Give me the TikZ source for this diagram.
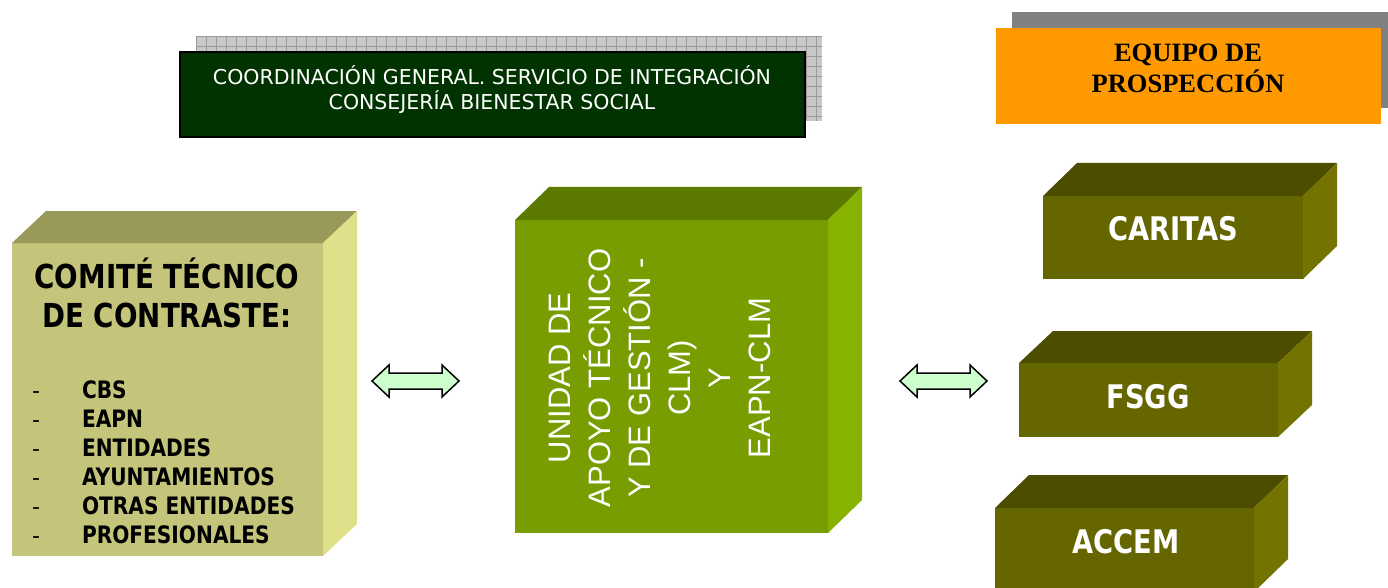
\documentclass[tikz,border=0pt]{standalone}
\usepackage{fontspec}
\setmainfont{Liberation Sans}
\newfontfamily\tahfont{DejaVu Sans}
\newfontfamily\tahbold[FakeStretch=0.84]{DejaVu Sans Bold}
\newfontfamily\timesfont{Liberation Serif}
\definecolor{gridfill}{HTML}{C8C8C8}
\definecolor{gridline}{HTML}{9A9A9A}
\definecolor{coordgreen}{HTML}{003300}
\definecolor{equipoorange}{HTML}{FF9900}
\definecolor{equiposhadow}{HTML}{808080}
\definecolor{comfront}{HTML}{C4C47A}
\definecolor{comtop}{HTML}{99995A}
\definecolor{comright}{HTML}{E0E08A}
\definecolor{unifront}{HTML}{779D00}
\definecolor{unitop}{HTML}{5C7A00}
\definecolor{uniright}{HTML}{86B300}
\definecolor{boxfront}{HTML}{666600}
\definecolor{boxtop}{HTML}{4D4D00}
\definecolor{boxright}{HTML}{737300}
\definecolor{arrowfill}{HTML}{CCFFCC}
\newcommand\cubesides[5]{%
  \fill[#4] (#1.north west) -- ++(#2,-#3) -- ([shift={(#2,-#3)}]#1.north east) -- (#1.north east) -- cycle;
  \fill[#5] (#1.north east) -- ++(#2,-#3) -- ([shift={(#2,-#3)}]#1.south east) -- (#1.south east) -- cycle;}
\begin{document}
\begin{tikzpicture}[x=1pt,y=-1pt,
  txt/.style={inner sep=0pt, outer sep=0pt, anchor=base},
  front/.style={inner sep=0pt, outer sep=0pt, anchor=north west, draw=none},
  barrow/.style={draw=black, line width=1.5pt, fill=arrowfill, line join=miter},
  comtxt/.style={txt, text=black, font=\tahbold\fontsize{24}{28}\selectfont},
  dashtxt/.style={txt, text=black, font=\tahfont\fontsize{22}{28}\selectfont},
  boxtxt/.style={txt, text=white, font=\tahbold\fontsize{32.5}{36}\selectfont},
  unitxt/.style={txt, text=white, rotate=90, font=\fontsize{31}{36}\selectfont}]
\clip (0,0) rectangle (1388,588);
\fill[white] (0,0) rectangle (1388,588);

% ---- coordination box with grid shadow
\fill[gridfill] (196,36) rectangle (822,121);
\foreach \gx in {196,206,...,822} \draw[gridline, line width=0.8pt] (\gx,36) -- (\gx,121);
\foreach \gy in {36,46,...,121} \draw[gridline, line width=0.8pt] (196,\gy) -- (822,\gy);
\node[front, draw=black, line width=2pt, fill=coordgreen, minimum width=625, minimum height=85] (coord) at (180,52) {};
\node[txt, text=white, font=\tahfont\fontsize{20.5}{24}\selectfont] (coordA) at (492,85) {COORDINACIÓN GENERAL. SERVICIO DE INTEGRACIÓN};
\node[txt, text=white, font=\tahfont\fontsize{20.5}{24}\selectfont] (coordB) at (492,110) {CONSEJERÍA BIENESTAR SOCIAL};

% ---- equipo de prospeccion
\fill[equiposhadow] (1012,12) rectangle (1388,108);
\node[front, fill=equipoorange, minimum width=385, minimum height=96] (equipo) at (996,28) {};
\node[txt, font=\timesfont\bfseries\fontsize{26.5}{30}\selectfont] (equipoA) at (1188,62) {EQUIPO DE};
\node[txt, font=\timesfont\bfseries\fontsize{26.5}{30}\selectfont] (equipoB) at (1188,93) {PROSPECCIÓN};

% ---- comite cube
\node[front, fill=comfront, minimum width=311, minimum height=313] (comite) at (12,243) {};
\cubesides{comite}{34}{32}{comtop}{comright}
\node[txt, text=black, font=\tahbold\fontsize{33}{38}\selectfont] (comA) at (167,288) {COMITÉ TÉCNICO};
\node[txt, text=black, font=\tahbold\fontsize{33}{38}\selectfont] (comB) at (167,327) {DE CONTRASTE:};
\foreach \t [count=\i] in {CBS,EAPN,ENTIDADES,AYUNTAMIENTOS,OTRAS ENTIDADES,PROFESIONALES}{
  \pgfmathsetmacro\yy{398+29*(\i-1)}
  \node[dashtxt, anchor=base west] (dash\i) at (32,\yy) {-};
  \node[comtxt, anchor=base west] (item\i) at (82,\yy) {\t};
}

% ---- unidad cube
\node[front, fill=unifront, minimum width=313, minimum height=313] (unidad) at (515,220) {};
\cubesides{unidad}{34}{33}{unitop}{uniright}
\node[unitxt] (uA) at (570,378) {UNIDAD DE};
\node[unitxt] (uB) at (610,378) {APOYO TÉCNICO};
\node[unitxt] (uC) at (650,378) {Y DE GESTIÓN -};
\node[unitxt] (uD) at (690,378) {CLM)};
\node[unitxt] (uE) at (730,378) {Y};
\node[unitxt] (uF) at (770,378) {EAPN-CLM};

% ---- right boxes
\node[front, fill=boxfront, minimum width=260, minimum height=83] (caritas) at (1043,196) {};
\cubesides{caritas}{34}{33}{boxtop}{boxright}
\node[boxtxt] (caritasT) at (1173,240) {CARITAS};

\node[front, fill=boxfront, minimum width=259, minimum height=74] (fsgg) at (1019,363) {};
\cubesides{fsgg}{34}{32}{boxtop}{boxright}
\node[boxtxt] (fsggT) at (1148,408) {FSGG};

\node[front, fill=boxfront, minimum width=259, minimum height=84] (accem) at (995,508) {};
\cubesides{accem}{34}{33}{boxtop}{boxright}
\node[boxtxt] (accemT) at (1126,553) {ACCEM};

% ---- double arrows
\coordinate (arrL) at (372,381);
\coordinate (arrR) at (900,381);
\foreach \c in {arrL,arrR}{
  \draw[barrow] (\c) -- ++(17,-16) -- ++(0,8) -- ++(53,0) -- ++(0,-8) -- ++(17,16)
    -- ++(-17,16) -- ++(0,-8) -- ++(-53,0) -- ++(0,8) -- cycle;
}
\end{tikzpicture}
\end{document}
